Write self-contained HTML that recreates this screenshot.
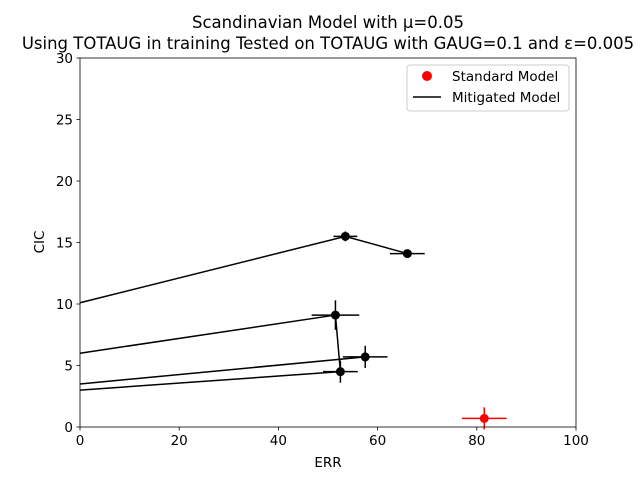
<!DOCTYPE html>
<html><head><meta charset="utf-8"><style>
body{margin:0;background:#fff;font-family:"DejaVu Sans","Liberation Sans",sans-serif}
svg text{font-family:"DejaVu Sans","Liberation Sans",sans-serif;fill:#000}
</style></head><body>
<svg id="chart" width="640" height="480" xmlns="http://www.w3.org/2000/svg">
<text x="328" y="28" font-size="16.5" text-anchor="middle">Scandinavian Model with μ=0.05</text>
<text x="328" y="49" font-size="16.5" text-anchor="middle">Using TOTAUG in training Tested on TOTAUG with GAUG=0.1 and ε=0.005</text>
<g id="marks"></g>
<rect x="80" y="58" width="496" height="369" fill="none" stroke="#000" stroke-width="0.8"/>
<g id="axes"></g>
<text x="328" y="467" font-size="13.5" text-anchor="middle">ERR</text>
<text x="44" y="242" font-size="13.5" text-anchor="middle" transform="rotate(-90 44 242)">CIC</text>
<g>
<rect x="407" y="65" width="162" height="46" rx="3" fill="#fff" stroke="#ccc" stroke-width="1"/>
<circle cx="427" cy="76" r="5" fill="red"/>
<text x="452" y="81" font-size="13.5">Standard Model</text>
<line x1="413" y1="97" x2="441" y2="97" stroke="#000" stroke-width="1.5"/>
<text x="452" y="102" font-size="13.5">Mitigated Model</text>
</g>
</svg>
<script>
const xTicks=[0,20,40,60,80,100];
const yTicks=[0,5,10,15,20,25,30];
const mitigatedLines=[
 [[0,10.1],[53.5,15.5],[66,14.1]],
 [[0,6.0],[51.5,9.1],[52.5,4.5]],
 [[0,3.5],[57.5,5.7]],
 [[0,3.0],[52.5,4.5]]
];
const mitX=[53.5,66,51.5,57.5,52.5];
const mitY=[15.5,14.1,9.1,5.7,4.5];
const mitXErr=[2.4,3.5,4.8,4.5,3.5];
const mitYErr=[0.4,0.3,1.2,0.9,0.9];
const stdX=[81.5];
const stdY=[0.7];
const stdXErr=[4.5];
const stdYErr=[0.9];
const NS="http://www.w3.org/2000/svg";
const sx=v=>80+v*4.96, sy=v=>427-v*12.3;
const marks=document.getElementById('marks'), axes=document.getElementById('axes');
function mk(tag,attrs,parent){const e=document.createElementNS(NS,tag);for(const k in attrs)e.setAttribute(k,attrs[k]);parent.appendChild(e);return e;}
xTicks.forEach(t=>{
 const l=mk('line',{x1:sx(t),x2:sx(t),y1:427,y2:430.5,stroke:'#000','stroke-width':0.8},axes);
 
 
 const tx=mk('text',{x:sx(t),y:445,'font-size':13.5,'text-anchor':'middle'},axes);tx.textContent=t;
 
 
});
yTicks.forEach(t=>{
 const l=mk('line',{x1:76.5,x2:80,y1:sy(t),y2:sy(t),stroke:'#000','stroke-width':0.8},axes);
 
 
 const tx=mk('text',{x:73,y:sy(t)+5,'font-size':13.5,'text-anchor':'end'},axes);tx.textContent=t;
 
 
});
mitigatedLines.forEach(s=>{
 const p=mk('polyline',{points:s.map(q=>sx(q[0])+','+sy(q[1])).join(' '),fill:'none',stroke:'#000','stroke-width':1.5},marks);
 
 
});
function pts(X,Y,XE,YE,col,name){
 X.forEach((x,i)=>{
  const g=mk('g',{},marks);
  
  
  mk('line',{x1:sx(x-XE[i]),x2:sx(x+XE[i]),y1:sy(Y[i]),y2:sy(Y[i]),stroke:col,'stroke-width':1.5},g);
  mk('line',{x1:sx(x),x2:sx(x),y1:sy(Y[i]-YE[i]),y2:sy(Y[i]+YE[i]),stroke:col,'stroke-width':1.5},g);
  mk('circle',{cx:sx(x),cy:sy(Y[i]),r:4.5,fill:col},g);
 });
}
pts(mitX,mitY,mitXErr,mitYErr,'#000','mitigated-point');
pts(stdX,stdY,stdXErr,stdYErr,'red','standard-point');
</script>
</body></html>
